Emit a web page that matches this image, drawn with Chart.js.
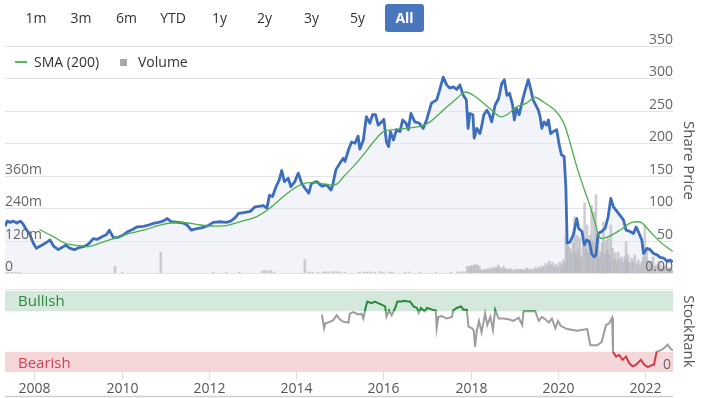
<!DOCTYPE html>
<html>
<head>
<meta charset="utf-8">
<script src="https://cdn.jsdelivr.net/npm/chart.js@4/dist/chart.umd.min.js"></script>
<style>
  html,body{margin:0;padding:0;background:#fff;}
  body{width:705px;height:398px;overflow:hidden;position:relative;font-family:"Open Sans","Noto Sans",sans-serif;}
  canvas{position:absolute;left:0;}
  #c1{top:0;}
  #c2{top:280px;}
  .btn{position:absolute;top:4px;height:28px;line-height:28px;font-size:14px;color:#333;text-align:center;z-index:2;}
  .btn.sel{background:#4a76bd;color:#fff;font-weight:bold;border-radius:3px;}
  .leg{position:absolute;top:52px;height:20px;line-height:20px;font-size:14px;color:#333;z-index:2;}
</style>
</head>
<body>
<canvas id="c1" width="705" height="280"></canvas>
<canvas id="c2" width="705" height="118"></canvas>
<div class="btn" style="left:22px;width:28px;">1m</div>
<div class="btn" style="left:67px;width:28px;">3m</div>
<div class="btn" style="left:112px;width:29px;">6m</div>
<div class="btn" style="left:155px;width:36px;">YTD</div>
<div class="btn" style="left:205px;width:29px;">1y</div>
<div class="btn" style="left:250px;width:29px;">2y</div>
<div class="btn" style="left:297px;width:29px;">3y</div>
<div class="btn" style="left:343px;width:29px;">5y</div>
<div class="btn sel" style="left:385px;width:39px;">All</div>
<div class="leg" style="left:15px;"><span style="display:inline-block;width:12px;height:2px;background:#5cb85c;vertical-align:middle;margin-right:7px;position:relative;top:-1px;"></span>SMA (200)</div>
<div class="leg" style="left:120px;"><span style="display:inline-block;width:7px;height:7px;background:#a8a9ae;vertical-align:middle;margin-right:11px;position:relative;top:-1px;"></span>Volume</div>
<script>
// ---------------- DATA ----------------
const yearTicks = [2008, 2010, 2012, 2014, 2016, 2018, 2020, 2022];
const priceTicks = [0, 50, 100, 150, 200, 250, 300, 350];
const volumeTicks = [0, 120, 240, 360];
const rankZeroLabel = [0];

const priceYears = [2007.33,2007.38,2007.45,2007.52,2007.6,2007.68,2007.74,2007.8,2007.9,2007.98,
2008.05,2008.12,2008.2,2008.3,2008.36,2008.45,2008.55,2008.65,2008.72,2008.82,2008.92,
2009.02,2009.15,2009.25,2009.35,2009.45,2009.55,2009.65,2009.72,2009.82,2009.92,
2010.05,2010.15,2010.25,2010.35,2010.5,2010.62,2010.75,2010.85,2010.95,
2011.05,2011.15,2011.3,2011.42,2011.5,2011.6,2011.7,2011.85,2011.98,
2012.1,2012.25,2012.4,2012.5,2012.6,2012.68,2012.8,2012.95,
2013.06,2013.18,2013.25,2013.33,2013.39,2013.46,2013.54,2013.61,2013.67,2013.73,2013.82,2013.88,2013.97,
2014.05,2014.13,2014.2,2014.29,2014.35,2014.47,2014.59,2014.7,2014.8,2014.84,2014.91,
2015.0,2015.08,2015.12,2015.2,2015.27,2015.35,2015.42,2015.46,2015.54,2015.61,2015.69,2015.75,2015.82,2015.88,2015.96,
2016.01,2016.07,2016.12,2016.16,2016.23,2016.3,2016.38,2016.44,2016.52,2016.57,2016.63,2016.72,2016.82,2016.91,2016.99,
2017.1,2017.22,2017.28,2017.37,2017.45,2017.52,2017.6,2017.68,2017.75,2017.83,2017.9,2017.94,2017.98,
2018.05,2018.08,2018.14,2018.21,2018.25,2018.3,2018.37,2018.43,2018.48,2018.56,2018.64,2018.71,2018.77,2018.83,2018.89,2018.96,
2019.0,2019.05,2019.11,2019.19,2019.24,2019.32,2019.37,2019.43,2019.49,2019.55,2019.59,2019.63,2019.68,2019.74,2019.78,2019.83,2019.89,2019.97,
2020.03,2020.08,2020.14,2020.18,2020.21,2020.28,2020.35,2020.43,2020.47,2020.55,2020.6,2020.66,2020.72,2020.77,2020.83,2020.87,2020.92,
2021.0,2021.08,2021.15,2021.21,2021.27,2021.35,2021.42,2021.5,2021.56,2021.65,2021.73,2021.79,2021.84,2021.92,2021.96,
2022.04,2022.11,2022.19,2022.27,2022.34,2022.42,2022.5,2022.57,2022.63];
const priceValues = [72,80,78,80,77,80,76,69,59,46,
38,41,44,48,51,41,36,40,43,38,36,
39,41,45,53,52,56,59,66,54,55,
59,64,67,71,72,74,77,78,80,
84,79,78,77,74,66,68,70,73,
78,79,78,80,85,92,93,95,
102,103,104,100,120,118,133,143,158,141,146,133,141,
154,138,131,123,138,141,134,136,128,136,159,
169,177,172,190,202,200,211,191,205,241,231,244,244,228,233,
237,202,195,218,205,221,218,236,231,221,246,233,231,223,236,
262,267,280,302,290,285,287,283,290,274,267,223,246,
244,208,223,215,226,244,251,244,233,259,269,292,298,274,277,259,
236,254,244,267,280,298,285,267,259,251,241,223,233,228,236,215,218,221,
197,182,180,133,46,48,59,84,69,64,43,51,48,30,25,28,61,
64,69,87,115,102,95,89,82,66,64,61,71,64,51,30,
38,36,30,28,24,23,18,20,17];

const smaYears = [2008.12,2008.44,2008.7,2009.05,2009.28,2009.5,2009.81,2010.12,2010.5,2010.88,
2011.18,2011.49,2011.8,2012.1,2012.41,2012.71,2013.1,2013.4,2013.71,2014.01,2014.24,2014.47,2014.78,2014.93,
2015.08,2015.31,2015.54,2015.77,2016.0,2016.23,2016.53,2016.84,2017.07,2017.37,2017.68,2017.87,
2018.06,2018.29,2018.52,2018.67,2018.83,2019.05,2019.28,2019.47,2019.66,2019.93,
2020.12,2020.28,2020.43,2020.58,2020.74,2020.85,2020.97,2021.15,2021.42,2021.65,2021.8,2021.92,
2022.11,2022.34,2022.63];
const smaValues = [67,56,46,42,41,46,53,60,66,74,
77.5,77.5,74,72.5,73,79,87,100,118,133,139,139,136,137,
148,164,182,202,218,221,223,226,233,251,269,279,
274,262,249,241,244,256,262,271,264,251,
233,200,164,133,102,77,54,56,66,77,79,77.5,
64,48,33];

const volumeYears = [2007.36,2007.42,2007.5,2007.58,2007.66,
2009.85,2010.02,2010.9,2012.1,2012.4,2012.7,
2013.22,2013.28,2013.34,2013.42,2013.5,
2014.2,2014.3,2014.38,2014.5,2014.62,2014.68,2014.75,2014.85,2014.93,2015.0,
2015.12,2015.45,2015.55,2015.62,2015.7,2015.8,2015.92,2016.0,2016.15,2016.2,2016.5,2016.6,2016.85,2017.2,2017.55,2017.7,2017.78,2017.84,
2017.92,2017.96,2018.0,2018.04,2018.08,2018.12,2018.16,2018.2,2018.24,
2018.28,2018.32,2018.36,2018.4,2018.44,2018.48,2018.52,2018.56,2018.6,2018.63,2018.67,2018.71,2018.75,2018.79,2018.83,2018.87,2018.91,2018.95,
2019.0,2019.04,2019.08,2019.12,2019.16,2019.2,2019.24,2019.28,2019.32,2019.36,2019.4,2019.44,2019.48,2019.52,2019.56,2019.6,2019.64,2019.68,2019.72,2019.76,2019.8,2019.84,2019.88,2019.92,2019.96,
2020.0,2020.04,2020.08,2020.12,2020.15,
2020.18,2020.21,2020.24,2020.28,2020.31,2020.35,2020.38,2020.41,2020.44,2020.47,2020.5,2020.53,2020.57,2020.61,2020.64,2020.67,2020.7,2020.73,2020.77,2020.8,2020.83,2020.87,2020.9,2020.92,2020.95,2020.98,
2021.01,2021.04,2021.07,2021.1,2021.13,2021.15,2021.18,2021.21,2021.25,2021.28,2021.31,2021.35,2021.38,2021.42,2021.46,2021.5,2021.53,2021.56,2021.59,2021.61,2021.65,2021.69,2021.72,2021.76,2021.8,2021.84,2021.88,2021.92,2021.95,2021.99,
2022.03,2022.07,2022.11,2022.15,2022.18,2022.22,2022.26,2022.3,2022.34,2022.38,2022.42,2022.45,2022.5,2022.54,2022.57,2022.6,2022.63];
const volumeValues = [3,2,3,2,2,
26,3,78,3,3,3,
6,10,8,9,4,
50,4,3,3,4,5,4,6,5,4,
3,3,4,3,4,3,5,3,4,3,3,4,3,3,3,4,4,5,
25,22,28,26,31,29,30,24,12,
10,14,12,18,13,20,16,22,18,30,20,15,26,17,14,12,16,10,
13,11,15,12,14,10,13,18,12,16,11,14,20,15,22,18,26,20,35,28,44,30,38,25,33,
22,40,30,48,35,
140,103,100,92,75,110,208,70,140,85,130,60,96,260,90,178,75,140,250,115,226,290,95,140,60,78,
110,189,70,122,85,133,65,178,92,55,74,48,78,52,59,40,62,115,45,67,38,55,42,67,35,48,30,41,60,178,
78,45,41,30,59,25,30,20,37,18,25,22,15,20,18,12,11];

const rankYears = [2014.59,2014.64,2014.67,2014.78,2014.85,2014.93,2015.0,2015.08,2015.2,2015.23,2015.31,2015.42,2015.5,2015.54,2015.59,2015.63,2015.73,2015.8,2015.92,
2016.04,2016.07,2016.13,2016.19,2016.27,2016.32,2016.42,2016.47,2016.57,2016.61,2016.69,2016.77,2016.81,2016.86,2016.94,
2017.0,2017.12,2017.2,2017.22,2017.26,2017.34,2017.45,2017.57,2017.6,2017.68,2017.78,2017.83,2017.91,2017.95,
2018.03,2018.07,2018.1,2018.14,2018.19,2018.25,2018.33,2018.38,2018.45,2018.51,2018.56,2018.64,2018.75,2018.87,2018.98,
2019.1,2019.18,2019.21,2019.29,2019.4,2019.48,2019.56,2019.63,2019.71,2019.79,2019.86,2019.94,
2020.0,2020.06,2020.21,2020.44,2020.67,2020.74,2020.9,2021.0,2021.1,2021.17,2021.24,2021.26,2021.33,2021.4,2021.48,2021.56,2021.63,2021.71,2021.79,2021.9,2021.98,
2022.06,2022.17,2022.2,2022.26,2022.36,2022.44,2022.51,2022.59,2022.64];
const rankValues = [71,54,60,62,64,70,65,62,61,72,74,71,72,66,79,87,85,87,84,
81,68,76,70,79,87,87,88,87,87,81,79,73,79,75,
79,77,76,54,68,69,66,68,76,79,81,77,77,56,
54,51,31,51,63,49,72,58,68,52,77,66,66,65,63,
67,58,75,75,75,75,63,68,65,61,66,54,
63,57,53,51,53,33,33,37,58,60,67,25,19,21,15,19,11,7,9,15,9,
6,9,9,25,27,30,34,28,27];

const bullishFrom = 75, bullishTo = 100, bearishFrom = 0, bearishTo = 25;

// ---------------- HELPERS ----------------
const FONT = '"Open Sans","Noto Sans",sans-serif';
const toPts = (xs, ys) => xs.map((x, i) => ({x: x, y: ys[i]}));
const X_MIN = 2007.33, X_MAX = 2022.635;

// ---------------- TOP PANEL ----------------
const topPlugin = {
  id: 'topPlugin',
  beforeDraw(chart) {
    const {ctx, chartArea: a, scales} = chart;
    ctx.save();
    ctx.strokeStyle = '#e3e3e3';
    ctx.lineWidth = 1;
    priceTicks.forEach(v => {
      const y = Math.round(scales.yP.getPixelForValue(v)) + 0.5;
      ctx.beginPath(); ctx.moveTo(a.left, y); ctx.lineTo(a.right, y); ctx.stroke();
    });
    ctx.restore();
  },
  afterDraw(chart) {
    const {ctx, chartArea: a, scales} = chart;
    ctx.save();
    ctx.font = '14px ' + FONT;
    ctx.fillStyle = '#666';
    ctx.textBaseline = 'alphabetic';
    ctx.textAlign = 'right';
    priceTicks.forEach(v => {
      const y = scales.yP.getPixelForValue(v);
      ctx.fillText(v === 0 ? '0.00' : String(v), a.right, y - 2);
    });
    ctx.textAlign = 'left';
    volumeTicks.forEach(v => {
      const y = scales.yV.getPixelForValue(v);
      ctx.fillText(v === 0 ? '0' : v + 'm', a.left, y - 2);
    });
    // axis title
    ctx.fillStyle = '#555';
    ctx.font = '15px ' + FONT;
    ctx.translate(688, (a.top + a.bottom) / 2 + 1);
    ctx.rotate(Math.PI / 2);
    ctx.textAlign = 'center';
    ctx.textBaseline = 'middle';
    ctx.fillText('Share Price', 0, 0);
    ctx.restore();
  }
};

new Chart(document.getElementById('c1'), {
  data: {
    datasets: [
      {
        type: 'line', label: 'SMA (200)', data: toPts(smaYears, smaValues), yAxisID: 'yP',
        borderColor: '#4cae4c', borderWidth: 1.3, pointRadius: 0, tension: 0.35, fill: false, order: 0
      },
      {
        type: 'line', label: 'Price', data: toPts(priceYears, priceValues), yAxisID: 'yP',
        borderColor: '#3d6ebd', borderWidth: 2.8, pointRadius: 0, tension: 0, order: 1,
        fill: 'start', backgroundColor: 'rgba(226,231,244,0.45)', borderJoinStyle: 'round'
      },
      {
        type: 'bar', label: 'Volume', data: toPts(volumeYears, volumeValues), yAxisID: 'yV',
        backgroundColor: 'rgba(175,176,184,0.6)', barThickness: 2, order: 2
      }
    ]
  },
  options: {
    responsive: false, animation: false, devicePixelRatio: 1,
    layout: {padding: {left: 5, right: 32, top: 46, bottom: 7}},
    plugins: {legend: {display: false}, tooltip: {enabled: false}, filler: {drawTime: 'beforeDatasetsDraw'}},
    scales: {
      x: {type: 'linear', min: X_MIN, max: X_MAX, offset: false, display: false},
      yP: {type: 'linear', position: 'right', min: 0, max: 350, display: false},
      yV: {type: 'linear', position: 'left', min: 0, max: 840, display: false}
    }
  },
  plugins: [topPlugin]
});

// ---------------- BOTTOM PANEL ----------------
const botPlugin = {
  id: 'botPlugin',
  beforeDraw(chart) {
    const {ctx, chartArea: a, scales} = chart;
    const y = scales.y;
    ctx.save();
    ctx.fillStyle = '#d4e8dc';
    ctx.fillRect(a.left, y.getPixelForValue(bullishTo), a.right - a.left, y.getPixelForValue(bullishFrom) - y.getPixelForValue(bullishTo));
    ctx.fillStyle = '#f5d7da';
    ctx.fillRect(a.left, y.getPixelForValue(bearishTo), a.right - a.left, y.getPixelForValue(bearishFrom) - y.getPixelForValue(bearishTo));
    // top separator line
    ctx.strokeStyle = '#e3e3e3'; ctx.lineWidth = 1;
    ctx.beginPath(); ctx.moveTo(a.left, a.top - 1.5); ctx.lineTo(a.right, a.top - 1.5); ctx.stroke();
    // band labels
    ctx.font = '15px ' + FONT;
    ctx.textAlign = 'left'; ctx.textBaseline = 'middle';
    ctx.fillStyle = '#2f8443';
    ctx.fillText('Bullish', a.left + 13, (y.getPixelForValue(bullishTo) + y.getPixelForValue(bullishFrom)) / 2 + 1);
    ctx.fillStyle = '#cc4455';
    ctx.fillText('Bearish', a.left + 13, (y.getPixelForValue(bearishTo) + y.getPixelForValue(bearishFrom)) / 2 + 2);
    ctx.restore();
  },
  afterDraw(chart) {
    const {ctx, chartArea: a, scales} = chart;
    const x = scales.x, y = scales.y;
    ctx.save();
    // ticks & labels
    ctx.strokeStyle = '#dcdcdc'; ctx.lineWidth = 1;
    ctx.font = '14px ' + FONT;
    ctx.fillStyle = '#555';
    ctx.textAlign = 'center'; ctx.textBaseline = 'middle';
    yearTicks.forEach(t => {
      const px = Math.round(x.getPixelForValue(t)) + 0.5;
      ctx.beginPath(); ctx.moveTo(px, a.bottom); ctx.lineTo(px, a.bottom + 8); ctx.stroke();
      ctx.fillText(String(t), px, a.bottom + 17);
    });
    // bottom axis line
    ctx.strokeStyle = '#cfcfcf'; ctx.lineWidth = 1.5;
    ctx.beginPath(); ctx.moveTo(a.left, a.bottom + 24.5); ctx.lineTo(a.right, a.bottom + 24.5); ctx.stroke();
    // rank "0" label
    ctx.fillStyle = '#666';
    ctx.textAlign = 'right'; ctx.textBaseline = 'alphabetic';
    rankZeroLabel.forEach(v => ctx.fillText(String(v), a.right - 2, y.getPixelForValue(v) - 3));
    // title
    ctx.fillStyle = '#555';
    ctx.font = '15px ' + FONT;
    ctx.translate(688, (a.top + a.bottom) / 2);
    ctx.rotate(Math.PI / 2);
    ctx.textAlign = 'center'; ctx.textBaseline = 'middle';
    ctx.fillText('StockRank', 0, 0);
    ctx.restore();
  }
};

function rankStroke(context) {
  const chart = context.chart;
  const a = chart.chartArea;
  if (!a) return '#9e9e9e';
  const y = chart.scales.y;
  const h = a.bottom - a.top;
  const f1 = Math.min(1, Math.max(0, (y.getPixelForValue(bullishFrom) - a.top) / h));
  const f2 = Math.min(1, Math.max(0, (y.getPixelForValue(bearishTo) - a.top) / h));
  const g = chart.ctx.createLinearGradient(0, a.top, 0, a.bottom);
  g.addColorStop(0, '#2a8a3b');
  g.addColorStop(f1, '#2a8a3b');
  g.addColorStop(f1, '#9d9d9d');
  g.addColorStop(f2, '#9d9d9d');
  g.addColorStop(f2, '#cf3a4a');
  g.addColorStop(1, '#cf3a4a');
  return g;
}

new Chart(document.getElementById('c2'), {
  type: 'line',
  data: {
    datasets: [{
      label: 'StockRank', data: toPts(rankYears, rankValues),
      borderColor: rankStroke, borderWidth: 2, pointRadius: 0, tension: 0, fill: false
    }]
  },
  options: {
    responsive: false, animation: false, devicePixelRatio: 1,
    layout: {padding: {left: 5, right: 32, top: 11, bottom: 26}},
    plugins: {legend: {display: false}, tooltip: {enabled: false}},
    scales: {
      x: {type: 'linear', min: X_MIN, max: X_MAX, display: false},
      y: {type: 'linear', min: 0, max: 100, display: false}
    }
  },
  plugins: [botPlugin]
});
</script>
</body>
</html>
